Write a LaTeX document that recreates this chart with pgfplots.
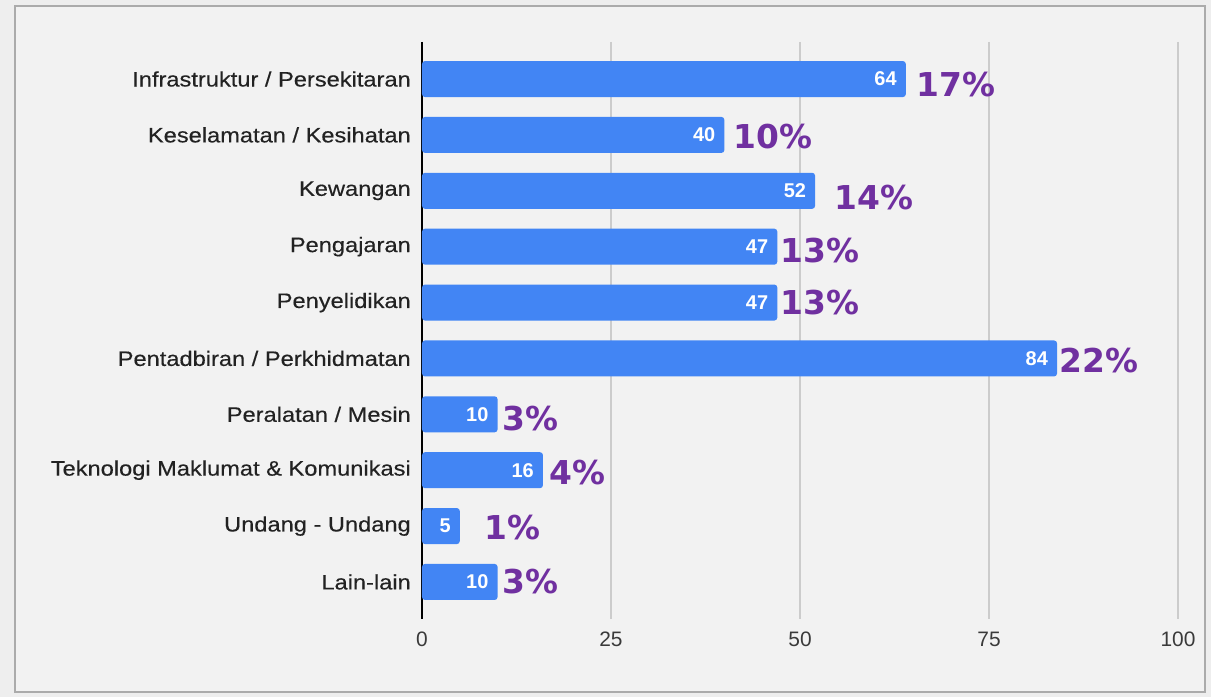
\documentclass[border=0pt]{standalone}
\usepackage{fontspec}
\setmainfont{Liberation Sans}
\newfontfamily\labfont[FakeStretch=1.13, FakeBold=0.35]{Liberation Sans}
\newfontfamily\pctfont{DejaVu Sans}
\usepackage{pgfplots}
\pgfplotsset{compat=1.18}
\usepackage{pgfplotstable}
\definecolor{barblue}{HTML}{4285F4}
\definecolor{pct}{HTML}{7030A0}
\definecolor{bg}{HTML}{F2F2F2}
\definecolor{framec}{HTML}{ABABAB}
\definecolor{outside}{HTML}{EEEEEE}
\definecolor{labtxt}{HTML}{222222}
\definecolor{ticktxt}{HTML}{3A3A3A}
\definecolor{gridc}{HTML}{CCCCCC}

\pgfplotstableread{
y v
0 64
1 40
2 52
3 47
4 47
5 84
6 10
7 16
8 5
9 10
}\bars

\pgfplotstableread{
x y p
65.4 0.09 17
41.2 1.02 10
54.6 2.12 14
47.4 3.07 13
47.4 4.00 13
84.3 5.04 22
10.6 6.08 3
16.8 7.05 4
8.3 8.03 1
10.6 9.00 3
}\pcts

\begin{document}
\begin{tikzpicture}
\useasboundingbox (0,0) rectangle (1211bp,697bp);
\fill[outside] (0,0) rectangle (1211bp,697bp);
\draw[framec, line width=2bp, fill=bg] (15bp,5bp) rectangle (1205bp,691bp);
\begin{axis}[
  at={(422bp,78bp)}, anchor=south west,
  scale only axis, width=756bp, height=577bp,
  xmin=0, xmax=100, ymin=-0.663, ymax=9.663, y dir=reverse,
  /pgf/number format/assume math mode=true,
  xtick={25,50,75,100},
  extra x ticks={0},
  extra x tick style={grid=major, major grid style={draw=black, line width=1.3bp}},
  xmajorgrids,
  major grid style={draw=gridc, line width=1.3bp},
  ytick={0,1,2,3,4,5,6,7,8,9},
  yticklabels={Infrastruktur / Persekitaran, Keselamatan / Kesihatan, Kewangan, Pengajaran, Penyelidikan, Pentadbiran / Perkhidmatan, Peralatan / Mesin, Teknologi Maklumat \& Komunikasi, Undang - Undang, Lain-lain},
  major tick length=0pt,
  axis line style={draw=none},
  yticklabel style={anchor=east, inner sep=0pt, xshift=-11bp, text=labtxt, font=\labfont\fontsize{21}{21}\selectfont},
  xticklabel style={anchor=north, inner sep=0pt, yshift=-13bp, text=ticktxt, font=\fontsize{21}{21}\selectfont},
  clip=false,
]
\addplot[xbar, bar width=0.645, fill=barblue, draw=none, rounded corners=3bp,
  nodes near coords,
  nodes near coords style={anchor=east, xshift=-9bp, inner sep=0pt, text=white, font=\bfseries\fontsize{20}{20}\selectfont},
  point meta=x]
  table[x=v, y=y] {\bars};
\addplot[draw=none, mark=none,
  nodes near coords={\pgfmathprintnumber[fixed,precision=0]{\pgfplotspointmeta}\%},
  nodes near coords style={anchor=west, inner sep=0pt, text=pct, font=\pctfont\bfseries\fontsize{33}{33}\selectfont},
  point meta=explicit]
  table[x=x, y=y, meta=p] {\pcts};
\end{axis}
\end{tikzpicture}
\end{document}
